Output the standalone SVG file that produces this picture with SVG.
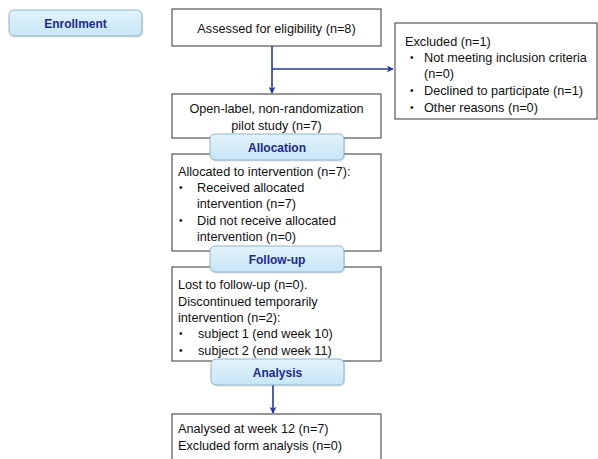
<svg xmlns="http://www.w3.org/2000/svg" width="598" height="459" viewBox="0 0 598 459">
<defs>
<linearGradient id="lbl" x1="0" y1="0" x2="0" y2="1">
<stop offset="0" stop-color="#e2f3fb"/>
<stop offset="1" stop-color="#c6e6f6"/>
</linearGradient>
<marker id="arr" viewBox="0 0 10 10" refX="9" refY="5" markerWidth="7" markerHeight="7" orient="auto" markerUnits="userSpaceOnUse">
<path d="M0,0 L10,5 L0,10 L3,5 z" fill="#2536a3"/>
</marker>
</defs>
<style>
.box{fill:#fff;stroke:#555;stroke-width:1.2}
.lbl{fill:url(#lbl);stroke:#8fb3c8;stroke-width:1}
.shadow{fill:#000;opacity:0.12}
.t{font-family:"Liberation Sans",Arial,sans-serif;font-size:12.7px;fill:#111}
.b{font-size:10px}
.c{text-anchor:middle}
.lt{font-family:"Liberation Sans",Arial,sans-serif;font-size:12px;font-weight:bold;fill:#1c2a8c;text-anchor:middle}
.con{fill:none;stroke:#2536a3;stroke-width:1.6}
</style>
<rect width="598" height="459" fill="#fff"/>
<g id="connectors">
<line class="con" x1="272" y1="46" x2="272" y2="93" marker-end="url(#arr)"/>
<line class="con" x1="272" y1="69" x2="393" y2="69" marker-end="url(#arr)"/>
<line class="con" x1="273" y1="385" x2="273" y2="413" marker-end="url(#arr)"/>
</g>
<g id="enrollment">
<rect class="shadow" x="10" y="11.5" width="133" height="26" rx="5"/>
<rect class="lbl" x="9" y="10" width="133" height="26" rx="5"/>
<text class="lt" x="75.5" y="27.5">Enrollment</text>
</g>
<g id="assessed">
<rect class="box" x="172" y="9" width="209" height="37"/>
<text class="t c" x="276.5" y="33">Assessed for eligibility (n=8)</text>
</g>
<g id="excluded">
<rect class="box" x="395" y="23" width="202" height="96"/>
<text class="t" x="405" y="46">Excluded (n=1)</text>
<text class="t b" x="410" y="61">•</text>
<text class="t" x="424" y="62">Not meeting inclusion criteria</text>
<text class="t" x="424" y="78">(n=0)</text>
<text class="t b" x="410" y="94">•</text>
<text class="t" x="424" y="95">Declined to participate (n=1)</text>
<text class="t b" x="410" y="111">•</text>
<text class="t" x="424" y="112">Other reasons (n=0)</text>
</g>
<g id="openlabel">
<rect class="box" x="172" y="94" width="209" height="44"/>
<text class="t c" x="276.5" y="113">Open-label, non-randomization</text>
<text class="t c" x="276.5" y="130">pilot study (n=7)</text>
</g>
<g id="allocated">
<rect class="box" x="172" y="154" width="209" height="97"/>
<text class="t" x="178" y="176">Allocated to intervention (n=7):</text>
<text class="t b" x="179" y="191">•</text>
<text class="t" x="197" y="192">Received allocated</text>
<text class="t" x="197" y="208">intervention (n=7)</text>
<text class="t b" x="179" y="224">•</text>
<text class="t" x="197" y="225">Did not receive allocated</text>
<text class="t" x="197" y="241">intervention (n=0)</text>
</g>
<g id="lost">
<rect class="box" x="172" y="267" width="209" height="94"/>
<text class="t" x="178" y="289">Lost to follow-up (n=0).</text>
<text class="t" x="178" y="306">Discontinued temporarily</text>
<text class="t" x="178" y="322">intervention (n=2):</text>
<text class="t b" x="179" y="337">•</text>
<text class="t" x="198" y="338">subject 1 (end week 10)</text>
<text class="t b" x="179" y="354">•</text>
<text class="t" x="198" y="355">subject 2 (end week 11)</text>
</g>
<g id="analysed">
<rect class="box" x="172" y="414" width="209" height="50"/>
<text class="t" x="178" y="433">Analysed at week 12 (n=7)</text>
<text class="t" x="178" y="450">Excluded form analysis (n=0)</text>
</g>
<g id="allocation">
<rect class="shadow" x="211" y="135.5" width="134" height="26" rx="5"/>
<rect class="lbl" x="210" y="134" width="134" height="26" rx="5"/>
<text class="lt" x="277" y="152">Allocation</text>
</g>
<g id="followup">
<rect class="shadow" x="211" y="247.5" width="134" height="26" rx="5"/>
<rect class="lbl" x="210" y="246" width="134" height="26" rx="5"/>
<text class="lt" x="277" y="264">Follow-up</text>
</g>
<g id="analysis">
<rect class="shadow" x="212" y="360.5" width="133" height="26" rx="5"/>
<rect class="lbl" x="211" y="359" width="133" height="26" rx="5"/>
<text class="lt" x="277.5" y="377">Analysis</text>
</g>
</svg>
